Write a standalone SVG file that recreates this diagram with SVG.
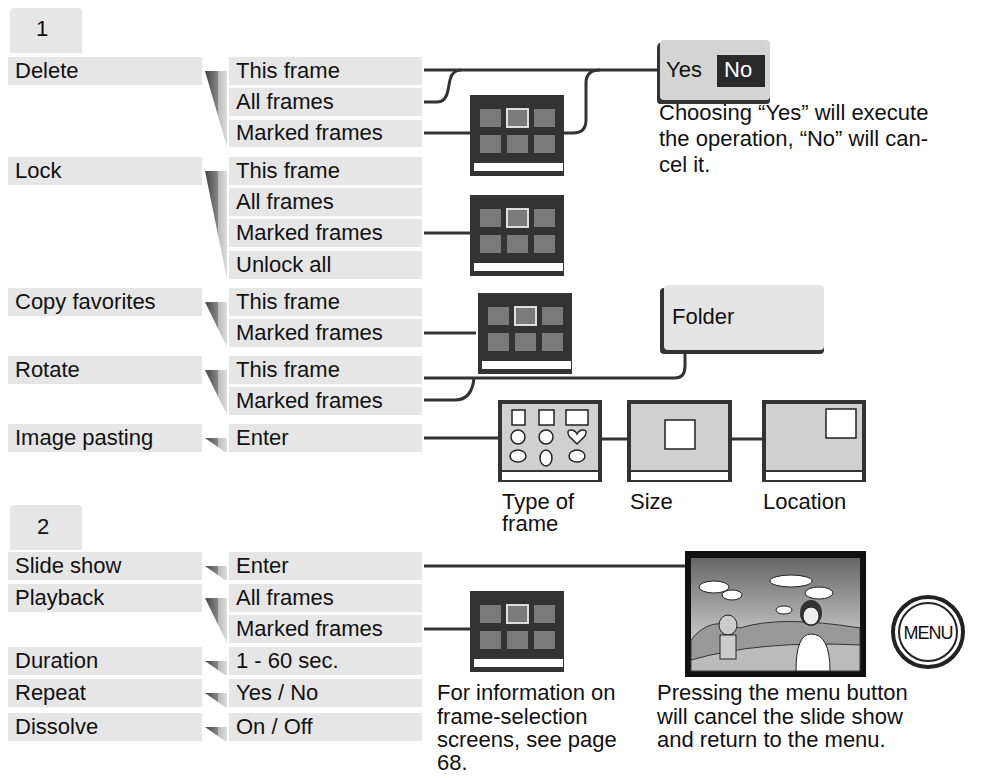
<svg xmlns="http://www.w3.org/2000/svg" width="1003" height="778" viewBox="0 0 1003 778">
<style>
text{font-family:"Liberation Sans",Arial,sans-serif;font-size:22px;fill:#111}
.b{fill:#e6e6e6}
.c{fill:none;stroke:#333;stroke-width:3}
.t{fill:#333}
.sq{fill:#7a7a7a}
</style>
<defs>
<linearGradient id="w" x1="0" x2="1" y1="0" y2="0"><stop offset="0" stop-color="#444"/><stop offset="0.6" stop-color="#888"/><stop offset="0.61" stop-color="#bbb"/><stop offset="1" stop-color="#ddd"/></linearGradient>
<linearGradient id="sky" x1="0" x2="0" y1="0" y2="1"><stop offset="0" stop-color="#666"/><stop offset="1" stop-color="#eee"/></linearGradient>
<g id="thumb"><rect x="0" y="0" width="94" height="81" class="t"/><rect x="10" y="14" width="21" height="18" class="sq"/><rect x="37" y="14" width="21" height="18" class="sq" stroke="#ddd" stroke-width="2"/><rect x="64" y="14" width="21" height="18" class="sq"/><rect x="10" y="40" width="21" height="18" class="sq"/><rect x="37" y="40" width="21" height="18" class="sq"/><rect x="64" y="40" width="21" height="18" class="sq"/><rect x="4" y="68" width="89" height="8" fill="#fff"/></g>
</defs>
<g id="tab1"><path d="M10 53V12q0-4 4-4h64q4 0 4 4v41z" class="b"/><text x="36" y="36">1</text></g>
<g id="tab2"><path d="M10 550V509q0-4 4-4h64q4 0 4 4v41z" class="b"/><text x="37" y="534">2</text></g>
<g id="left">
<rect x="8" y="57" width="194" height="28" class="b"/><text x="15" y="78">Delete</text>
<rect x="8" y="157" width="194" height="28" class="b"/><text x="15" y="178">Lock</text>
<rect x="8" y="288" width="194" height="28" class="b"/><text x="15" y="309">Copy favorites</text>
<rect x="8" y="356" width="194" height="28" class="b"/><text x="15" y="377">Rotate</text>
<rect x="8" y="424" width="194" height="28" class="b"/><text x="15" y="445">Image pasting</text>
<rect x="8" y="552" width="194" height="28" class="b"/><text x="15" y="573">Slide show</text>
<rect x="8" y="584" width="194" height="28" class="b"/><text x="15" y="605">Playback</text>
<rect x="8" y="647" width="194" height="28" class="b"/><text x="15" y="668">Duration</text>
<rect x="8" y="679" width="194" height="28" class="b"/><text x="15" y="700">Repeat</text>
<rect x="8" y="713" width="194" height="28" class="b"/><text x="15" y="734">Dissolve</text>
</g>
<g id="wedges" fill="url(#w)">
<polygon points="205,71 227,71 227,147"/>
<polygon points="205,171 227,171 227,279"/>
<polygon points="205,302 227,302 227,347"/>
<polygon points="205,370 227,370 227,415"/>
<polygon points="205,438 227,438 227,452 225,452"/>
<polygon points="205,566 227,566 227,580 225,580"/>
<polygon points="205,598 227,598 227,643"/>
<polygon points="205,661 227,661 227,675 225,675"/>
<polygon points="205,693 227,693 227,707 225,707"/>
<polygon points="205,727 227,727 227,741 225,741"/>
</g>
<g id="sub">
<rect x="229" y="57" width="193" height="28" class="b"/><text x="236" y="78">This frame</text>
<rect x="229" y="88" width="193" height="28" class="b"/><text x="236" y="109">All frames</text>
<rect x="229" y="120" width="193" height="27" class="b"/><text x="236" y="140">Marked frames</text>
<rect x="229" y="157" width="193" height="28" class="b"/><text x="236" y="178">This frame</text>
<rect x="229" y="188" width="193" height="28" class="b"/><text x="236" y="209">All frames</text>
<rect x="229" y="219" width="193" height="28" class="b"/><text x="236" y="240">Marked frames</text>
<rect x="229" y="251" width="193" height="28" class="b"/><text x="236" y="272">Unlock all</text>
<rect x="229" y="288" width="193" height="28" class="b"/><text x="236" y="309">This frame</text>
<rect x="229" y="319" width="193" height="28" class="b"/><text x="236" y="340">Marked frames</text>
<rect x="229" y="356" width="193" height="28" class="b"/><text x="236" y="377">This frame</text>
<rect x="229" y="387" width="193" height="28" class="b"/><text x="236" y="408">Marked frames</text>
<rect x="229" y="424" width="193" height="28" class="b"/><text x="236" y="445">Enter</text>
<rect x="229" y="552" width="193" height="28" class="b"/><text x="236" y="573">Enter</text>
<rect x="229" y="584" width="193" height="28" class="b"/><text x="236" y="605">All frames</text>
<rect x="229" y="615" width="193" height="28" class="b"/><text x="236" y="636">Marked frames</text>
<rect x="229" y="647" width="193" height="28" class="b"/><text x="236" y="668">1 - 60 sec.</text>
<rect x="229" y="679" width="193" height="28" class="b"/><text x="236" y="700">Yes / No</text>
<rect x="229" y="713" width="193" height="28" class="b"/><text x="236" y="734">On / Off</text>
</g>
<g id="connectors" class="c">
<path d="M424 70H657"/>
<path d="M424 102H437Q446 102 448 90L450 80Q452 70 461 70"/>
<path d="M424 133H470"/>
<path d="M564 133H573Q586 133 586 120V83Q586 70 600 70"/>
<path d="M424 233H470"/>
<path d="M424 333H476"/>
<path d="M424 378H675Q685 378 685 366V353"/>
<path d="M424 400H455Q472 400 474 378"/>
<path d="M424 438H498"/>
<path d="M602 439H627"/>
<path d="M732 439H762"/>
<path d="M424 566H685"/>
<path d="M424 629H470"/>
</g>
<g id="yesno"><path d="M657 48Q657 42 663 42H767Q770 42 770 48V100Q770 104 767 104H660Q657 104 657 100z" fill="#333"/><rect x="660" y="40" width="110" height="60" rx="4" fill="#d4d4d4"/><text x="666" y="77">Yes</text><rect x="717" y="55" width="48" height="32" fill="#2a2a2a"/><text x="724" y="77" style="fill:#fff">No</text></g>
<g id="yesnoText"><text x="659" y="120">Choosing “Yes” will execute</text><text x="659" y="146">the operation, “No” will can-</text><text x="659" y="172">cel it.</text></g>
<g id="thumb1"><use href="#thumb" x="470" y="95"/></g>
<g id="thumb2"><use href="#thumb" x="470" y="195"/></g>
<g id="thumb3"><use href="#thumb" x="478" y="293"/></g>
<g id="thumb4"><use href="#thumb" x="470" y="591"/></g>
<g id="folder"><rect x="660" y="288" width="164" height="66" rx="4" fill="#333"/><rect x="664" y="285" width="160" height="65" rx="4" fill="#e4e4e4"/><text x="672" y="324">Folder</text></g>
<g id="typeframe"><rect x="498" y="400" width="104" height="82" fill="#333"/><rect x="502" y="404" width="96" height="66" fill="#d0d0d0"/><rect x="502" y="472" width="96" height="8" fill="#fff"/>
<g fill="#fff" stroke="#222" stroke-width="1.5"><rect x="512" y="410" width="13" height="15"/><rect x="539" y="410" width="15" height="15"/><rect x="566" y="410" width="22" height="15"/>
<circle cx="518" cy="437" r="7"/><circle cx="546" cy="437" r="7"/><path d="M577 444L569 436Q566 430 571 430Q575 430 577 434Q579 430 583 430Q588 430 585 436Z"/>
<ellipse cx="518" cy="456" rx="8" ry="6"/><ellipse cx="546" cy="458" rx="6" ry="8"/><ellipse cx="577" cy="456" rx="8" ry="6"/></g></g>
<g id="size"><rect x="627" y="400" width="105" height="82" fill="#333"/><rect x="631" y="404" width="97" height="66" fill="#d0d0d0"/><rect x="631" y="472" width="97" height="8" fill="#fff"/><rect x="665" y="420" width="30" height="29" fill="#fff" stroke="#222" stroke-width="1.5"/></g>
<g id="location"><rect x="762" y="400" width="104" height="82" fill="#333"/><rect x="766" y="404" width="96" height="66" fill="#d0d0d0"/><rect x="766" y="472" width="96" height="8" fill="#fff"/><rect x="826" y="409" width="30" height="29" fill="#fff" stroke="#222" stroke-width="1.5"/></g>
<g id="labels"><text x="502" y="509">Type of</text><text x="502" y="531">frame</text><text x="630" y="509">Size</text><text x="763" y="509">Location</text></g>
<g id="slide"><rect x="685" y="551" width="181" height="126" fill="#111"/><rect x="691" y="558" width="169" height="113" fill="url(#sky)"/>
<g fill="#fff" stroke="#222" stroke-width="1"><ellipse cx="714" cy="587" rx="15" ry="6"/><ellipse cx="732" cy="595" rx="10" ry="5"/><ellipse cx="791" cy="581" rx="21" ry="6"/><ellipse cx="819" cy="593" rx="14" ry="6"/><ellipse cx="784" cy="610" rx="8" ry="4"/></g>
<path d="M691 640Q710 615 740 628Q780 615 860 628V671H691Z" fill="#999" stroke="#333"/>
<path d="M691 660Q760 640 860 645V671H691Z" fill="#bbb" stroke="#333"/>
<ellipse cx="728" cy="625" rx="9" ry="10" fill="#ccc" stroke="#222"/><rect x="720" y="635" width="16" height="24" fill="#ccc" stroke="#222"/>
<ellipse cx="811" cy="613" rx="11" ry="13" fill="#333"/><ellipse cx="811" cy="616" rx="8" ry="9" fill="#eee" stroke="#222"/><path d="M796 671Q796 634 811 634Q830 634 830 671Z" fill="#fff" stroke="#222"/></g>
<g id="menu"><circle cx="928" cy="632" r="35" fill="none" stroke="#222" stroke-width="4"/><circle cx="928" cy="632" r="29" fill="#fff" stroke="#222" stroke-width="2"/><text x="928" y="639" text-anchor="middle" style="font-size:18px;letter-spacing:-1px">MENU</text></g>
<g id="info"><text x="437" y="700">For information on</text><text x="437" y="724">frame-selection</text><text x="437" y="747">screens, see page</text><text x="437" y="770">68.</text></g>
<g id="menutext"><text x="657" y="700">Pressing the menu button</text><text x="657" y="724">will cancel the slide show</text><text x="657" y="747">and return to the menu.</text></g>
</svg>
